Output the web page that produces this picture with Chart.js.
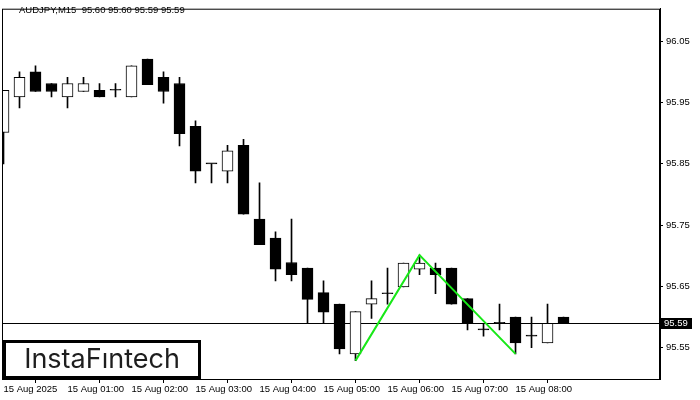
<!DOCTYPE html>
<html>
<head>
<meta charset="utf-8">
<script src="https://cdn.jsdelivr.net/npm/chart.js@4.4.0/dist/chart.umd.min.js"></script>
<style>
body{margin:0;background:#fff;}
#grafico{display:block;}
</style>
</head>
<body>
<canvas id="grafico" width="700" height="400"></canvas>
<script>
//DATOS
var symbol = 'AUDJPY,M15';
var timeLabels = ['15 Aug 2025','15 Aug 01:00','15 Aug 02:00','15 Aug 03:00','15 Aug 04:00','15 Aug 05:00','15 Aug 06:00','15 Aug 07:00','15 Aug 08:00'];
var timeLabelIdx = [0,4,8,12,16,20,24,28,32];
var priceTicks = [95.55,95.65,95.75,95.85,95.95,96.05];

var openP  = [95.901,95.959,96.000,95.981,95.959,95.968,95.970,95.970,95.959,96.021,95.991,95.981,95.911,95.850,95.838,95.880,95.760,95.729,95.689,95.680,95.640,95.621,95.540,95.621,95.638,95.649,95.678,95.680,95.680,95.630,95.579,95.590,95.600,95.569,95.558,95.600];
var highP  = [95.970,96.000,96.010,95.981,95.991,95.991,95.981,95.981,96.010,96.021,96.000,95.991,95.920,95.850,95.880,95.890,95.819,95.739,95.760,95.680,95.659,95.621,95.609,95.659,95.680,95.688,95.701,95.688,95.680,95.630,95.590,95.621,95.600,95.600,95.621,95.600];
var lowP   = [95.850,95.941,95.968,95.959,95.941,95.968,95.959,95.959,95.959,95.979,95.949,95.879,95.819,95.819,95.819,95.768,95.718,95.659,95.659,95.590,95.590,95.540,95.529,95.598,95.621,95.649,95.669,95.638,95.621,95.579,95.569,95.579,95.540,95.550,95.558,95.590];
var closeP = [95.970,95.991,95.968,95.968,95.981,95.981,95.959,95.970,96.010,95.979,95.968,95.899,95.838,95.850,95.871,95.768,95.718,95.678,95.669,95.629,95.608,95.548,95.609,95.630,95.638,95.688,95.688,95.669,95.621,95.590,95.579,95.590,95.558,95.569,95.590,95.590];

// doble suelo
var patternIdx = [22,26,32];
var patternPrice = [95.529,95.701,95.540];

var yMin = 95.499, yMax = 96.103;
var xMin = -0.094, xMax = 41.03;

var ctx = document.getElementById('grafico').getContext('2d');
var fuente = 'Liberation Sans';

var wicks = openP.map(function(o,i){ return {x:i, y:[lowP[i], highP[i]]}; });
var bodies = openP.map(function(o,i){ return {x:i, y:[o, closeP[i]]}; });
var bodyColors = openP.map(function(o,i){ return closeP[i] > o ? '#ffffff' : '#000000'; });
var pattern = patternIdx.map(function(v,i){ return {x:v, y:patternPrice[i]}; });

//PLUGIN MARCO, LINEA DE PRECIO, TITULO Y LOGO
var extras = {
    id:'extras',
    beforeDatasetsDraw: function(chart){
        var c = chart.ctx, a = chart.chartArea;
        var py = Math.round(chart.scales.y.getPixelForValue(closeP[closeP.length-1])) + 0.5;
        c.save();
        c.strokeStyle = '#000';
        c.lineWidth = 1;
        c.beginPath();
        c.moveTo(a.left, py);
        c.lineTo(a.right, py);
        c.stroke();
        c.restore();
    },
    afterDraw: function(chart){
        var c = chart.ctx, a = chart.chartArea;
        var last = closeP.length-1;
        c.save();
        c.strokeStyle = '#000';
        c.lineWidth = 1;
        c.strokeRect(a.left+0.5, a.top+0.5, a.right-a.left-1, a.bottom-a.top);

        // etiqueta precio
        var py = Math.round(chart.scales.y.getPixelForValue(closeP[last]));
        c.fillStyle = '#000';
        c.fillRect(a.right+1, py-5, 31, 11);
        c.fillStyle = '#fff';
        c.font = '9.5px "' + fuente + '"';
        c.textBaseline = 'middle';
        c.fillText(closeP[last].toFixed(2), a.right+4, py+0.5);

        // titulo
        c.fillStyle = '#000';
        c.fillText(symbol + '  ' + openP[last].toFixed(2) + ' ' + highP[last].toFixed(2) + ' ' + lowP[last].toFixed(2) + ' ' + closeP[last].toFixed(2), 19, 10.5);

        // logo
        c.fillStyle = '#fff';
        c.fillRect(4, 341, 196, 37);
        c.lineWidth = 3;
        c.strokeStyle = '#000';
        c.strokeRect(4.5, 341.5, 195, 36);
        c.fillStyle = '#1e1e1e';
        c.font = '400 27px Inter';
        c.textAlign = 'center';
        c.fillText('InstaF\u0131ntech', 102, 360);
        c.restore();
    }
};

var config = {
    type:'bar',
    data:{
        datasets:[{
            type:'line',
            data: pattern,
            borderColor:'rgb(24,232,24)',
            borderWidth:2,
            pointRadius:0,
            tension:0,
            order:0
        },{
            data: bodies,
            backgroundColor: bodyColors,
            borderColor:'#000',
            borderWidth:1,
            borderSkipped:false,
            barThickness:11,
            minBarLength:1,
            grouped:false,
            order:1
        },{
            data: wicks,
            backgroundColor:'#000',
            borderWidth:0,
            barThickness:1,
            grouped:false,
            order:2
        }]
    },
    options:{
        responsive:false,
        animation:false,
        events:[],
        layout:{padding:{left:2, top:2, right:0, bottom:0}},
        plugins:{legend:{display:false}, tooltip:{enabled:false}},
        scales:{
            x:{
                type:'linear',
                min:xMin, max:xMax,
                offset:false,
                afterBuildTicks:function(s){ s.ticks = timeLabelIdx.map(function(v){ return {value:v}; }); },
                afterFit:function(s){ s.height = 21; },
                grid:{drawOnChartArea:false, tickLength:4, color:'#000'},
                border:{color:'#000'},
                ticks:{
                    align:'start', maxRotation:0, autoSkip:false, padding:1,
                    color:'#000', font:{family:fuente, size:9.5},
                    callback:function(v){ return timeLabels[timeLabelIdx.indexOf(v)]; }
                }
            },
            y:{
                position:'right',
                min:yMin, max:yMax,
                afterBuildTicks:function(s){ s.ticks = priceTicks.map(function(v){ return {value:v}; }); },
                afterFit:function(s){ s.width = 40; },
                grid:{drawOnChartArea:false, tickLength:3, color:'#000'},
                border:{color:'#000'},
                ticks:{
                    padding:3, color:'#000', font:{family:fuente, size:9.5},
                    callback:function(v){ return v.toFixed(2); }
                }
            }
        }
    },
    plugins:[extras]
};

var grafico = new Chart(ctx, config);
</script>
</body>
</html>
